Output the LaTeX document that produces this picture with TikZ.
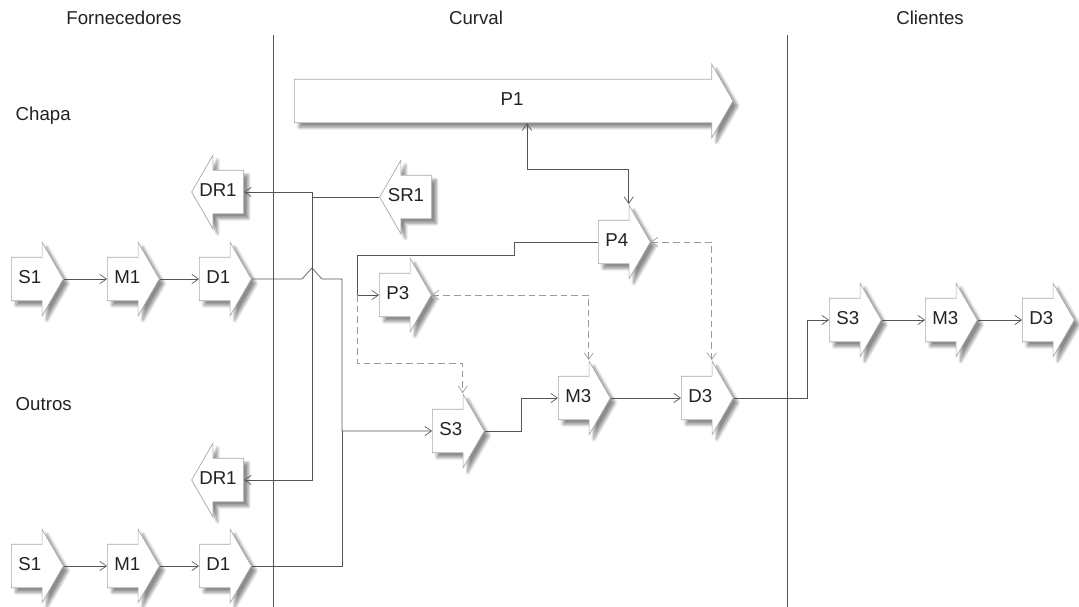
\documentclass[tikz,border=0pt]{standalone}
\usepackage{fontspec}
\setmainfont{Liberation Sans}
\usetikzlibrary{shapes.arrows,arrows.meta,shadows.blur}

\definecolor{inkgray}{HTML}{222222}
\definecolor{linegray}{HTML}{555555}
\definecolor{edgegray}{HTML}{A8A8A8}
\definecolor{dashgray}{HTML}{9A9A9A}

\tikzset{
  arrowbase/.style={single arrow, draw=edgegray, fill=white, line width=0.5pt,
    minimum height=39pt, minimum width=54.75pt,
    single arrow head extend=11.25pt, single arrow tip angle=120,
    inner ysep=9.6pt, text height=10pt, text depth=3pt,
    anchor=tail, font=\fontsize{14}{16}\selectfont, text=inkgray,
    blur shadow={shadow xshift=3.5pt, shadow yshift=-3.5pt, shadow blur steps=6, shadow opacity=45}},
  stage/.style={arrowbase, inner xsep=2pt, text width=19pt, align=left},
  backstage/.style={arrowbase, shape border rotate=180, inner xsep=11.6pt,
    execute at begin node={\hbox to 0pt\bgroup\hss},
    execute at end node={\hss\hskip 9pt\egroup}},
  flow/.style={draw=linegray, line width=0.5pt, -{Straight Barb[length=5pt,width=7pt]}},
  link/.style={draw=linegray, line width=0.5pt},
  both/.style={flow, {Straight Barb[length=5pt,width=7pt]}-{Straight Barb[length=5pt,width=7pt]}},
  dflow/.style={flow, draw=dashgray, dash pattern=on 5pt off 3pt},
  dboth/.style={both, draw=dashgray, dash pattern=on 5pt off 3pt},
  title/.style={font=\fontsize{14}{16}\selectfont, text=inkgray},
}

\begin{document}
\begin{tikzpicture}[x=0.75pt, y=-0.75pt]
  \useasboundingbox (0,0) rectangle (1079,607);

  % column titles and dividers
  \node[title] (tforn) at (124,18) {Fornecedores};
  \node[title] (tcurv) at (476,18) {Curval};
  \node[title] (tcli) at (930,18) {Clientes};
  \node[title, anchor=west] (tchapa) at (11,116) {Chapa};
  \node[title, anchor=west] (toutros) at (11,404) {Outros};
  \draw[linegray, line width=0.5pt] (273,35) -- (273,607);
  \draw[linegray, line width=0.5pt] (787,35) -- (787,607);

  % Curval
  \node[arrowbase, minimum height=329pt] (P1) at (294,101) {\hskip 7pt P1};
  \node[backstage] (SR1) at (432,197) {SR1};
  \node[stage] (P4) at (598,242) {P4};
  \node[stage] (P3) at (379,295) {P3};
  \node[stage] (S3b) at (432,431) {S3};
  \node[stage] (M3b) at (558,398) {M3};
  \node[stage] (D3b) at (681,398) {D3};

  % Fornecedores
  \node[backstage] (DR1a) at (244,192) {DR1};
  \node[stage] (S1a) at (11,279) {S1};
  \node[stage] (M1a) at (107,279) {M1};
  \node[stage] (D1a) at (199,279) {D1};
  \node[backstage] (DR1b) at (244,480) {DR1};
  \node[stage] (S1b) at (11,566) {S1};
  \node[stage] (M1b) at (107,566) {M1};
  \node[stage] (D1b) at (199,566) {D1};

  % Clientes
  \node[stage] (S3c) at (829,320) {S3};
  \node[stage] (M3c) at (925,320) {M3};
  \node[stage] (D3c) at (1022,320) {D3};

  % junctions
  \coordinate (jD) at (342,431);
  \coordinate (jS) at (312,197);
  \coordinate (jP) at (357,295);
  \coordinate (xP1) at (527,0);
  \coordinate (yP1) at (0,169);
  \coordinate (yP3) at (0,363);

  \draw[flow] (S1a.tip) -- (M1a.tail);
  \draw[flow] (M1a.tip) -- (D1a.tail);
  \draw[flow] (S1b.tip) -- (M1b.tail);
  \draw[flow] (M1b.tip) -- (D1b.tail);
  \draw[flow] (S3c.tip) -- (M3c.tail);
  \draw[flow] (M3c.tip) -- (D3c.tail);

  \draw[flow] (D1a.tip) -- (302,279) -- (312,268) -- (322,279) -| (jD) -- (S3b.tail);
  \draw[link] (D1b.tip) -| (jD);
  \draw[flow] (SR1.tip) -- (jS) |- (DR1a.tail);
  \draw[flow] (jS) |- (DR1b.tail);

  \draw[both] (P1.south -| xP1) -- (xP1 |- yP1) -| (P4.before tip);
  \draw[flow] (P4.tail) -| (514,255) -| (jP) -- (P3.tail);
  \draw[dflow] (jP) -- (jP |- yP3) -| (S3b.before tip);
  \draw[dboth] (P3.tip) -| (M3b.before tip);
  \draw[dboth] (P4.tip) -| (D3b.before tip);

  \draw[flow] (S3b.tip) -| (521,398) -- (M3b.tail);
  \draw[flow] (M3b.tip) -- (D3b.tail);
  \draw[flow] (D3b.tip) -| (807,320) -- (S3c.tail);
\end{tikzpicture}
\end{document}
